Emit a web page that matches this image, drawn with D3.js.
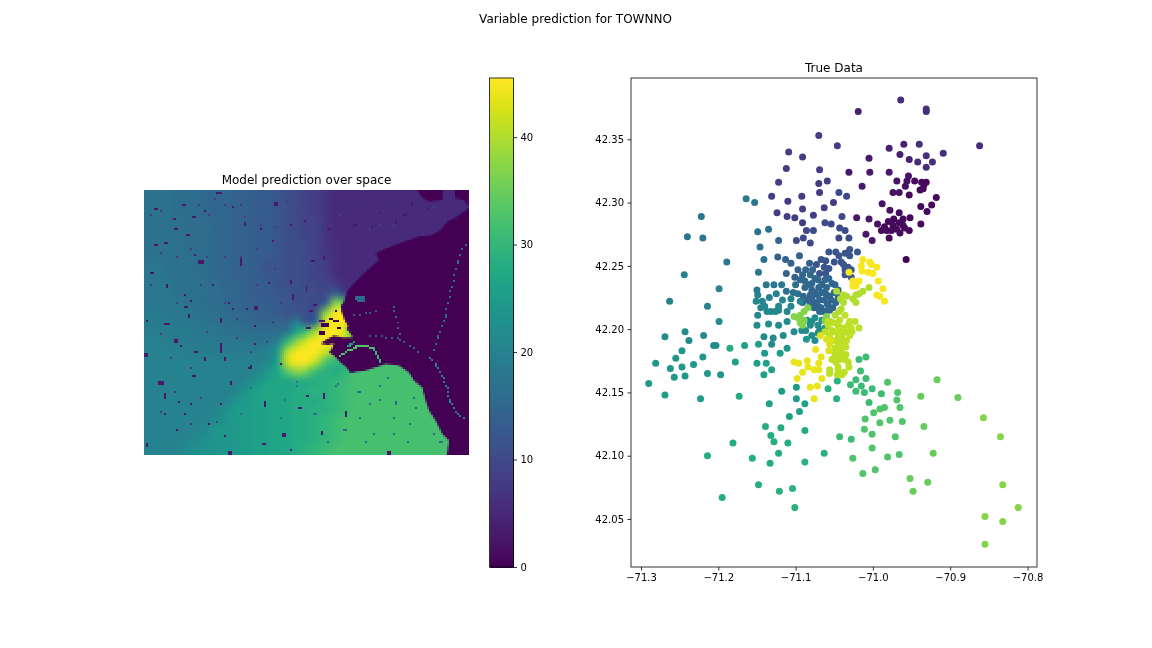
<!DOCTYPE html>
<html>
<head>
<meta charset="utf-8">
<script src="https://cdn.jsdelivr.net/npm/d3@7"></script>
<style>
  html, body { margin: 0; background: #fff; }
  #stage { position: relative; width: 1152px; height: 648px; overflow: hidden; }
  #stage canvas { position: absolute; image-rendering: pixelated; }
  #stage svg { position: absolute; left: 0; top: 0; }
  text { font-family: "DejaVu Sans", sans-serif; fill: #000; }
  .axis text { font-size: 10px; font-family: "DejaVu Sans", sans-serif; }
  .axis line, .axis path { stroke: #000; stroke-width: 0.8; }
</style>
</head>
<body>
<div id="stage"></div>
<script>
// Titles and ticks
const figureTitle = "Variable prediction for TOWNNO";
const mapTitle = "Model prediction over space";
const scatterTitle = "True Data";
const colorbarTicks = [0, 10, 20, 30, 40];
const lonTicks = [-71.3, -71.2, -71.1, -71.0, -70.9, -70.8];
const latTicks = [42.05, 42.10, 42.15, 42.20, 42.25, 42.30, 42.35];
const valueMax = 45.5;

// Prediction raster: coarse field over the land
const fieldRows = [
  [17,17,17,16,16,16,15,15,15,14,14,13,13,12,11,10,9,8,7,5.5,5.5,5.5,5.5,5.5,5.5,5.5,5.5,5.5,5.5,5.5,5.5,5.5,5.5],
  [17,17,17,16,16,16,15,15,15,14,14,13,13,12,11,10,9,8,7,5.5,5.5,5.5,5.5,5.5,5.5,5.5,5.5,5.5,5.5,5.5,5.5,5.5,5.5],
  [17,17,17,16,16,16,15,15,15,14,14,13,13,12,11,10,9,8,7,5.5,5.5,5.5,5.5,5.5,5.5,5.5,5.5,5.5,5.5,5.5,5.5,5.5,5.5],
  [17,17,17,17,16,16,16,15,15,14,14,13,13,12,11,10,9,9,7,5.5,5.5,5.5,5.5,5.5,5.5,5.5,5.5,5.5,5.5,5.5,5.5,5.5,5.5],
  [17,17,17,17,16,16,16,15,15,14,14,13,13,12,11,10,9,9,7,5.5,5.5,5.5,5.5,5.5,5.5,5.5,5.5,5.5,5.5,5.5,5.5,5.5,5.5],
  [17,17,17,17,16,16,16,15,15,14,14,13,13,12,11,11,10,9,7,6,5.5,5.5,5.5,5.5,5.5,5.5,5.5,5.5,5.5,5.5,5.5,5.5,5.5],
  [17,17,17,17,16,16,16,15,15,14,14,13,13,12,11,11,10,9,7,6,5.5,5.5,5.5,5.5,5.5,5.5,5.5,5.5,5.5,5.5,5.5,5.5,5.5],
  [18,18,17,17,17,16,16,15,15,14,14,13,12,12,11,11,10,9,8,6,5.5,5.5,5.5,5.5,5.5,5.5,5.5,5.5,5.5,5.5,5.5,5.5,5.5],
  [18,18,17,17,17,16,16,15,15,14,14,13,12,12,11,11,10,9,8,6,5.5,5.5,5.5,5.5,5.5,5.5,5.5,5.5,5.5,5.5,5.5,5.5,5.5],
  [18,18,18,17,17,17,16,16,15,15,14,13,13,12,11,11,10,10,9,8,5.5,5.5,5.5,5.5,5.5,5.5,5.5,5.5,5.5,5.5,5.5,5.5,5.5],
  [18,18,18,17,17,17,16,16,15,15,14,13,13,12,12,11,11,10,10,14,8,5.5,5.5,5.5,5.5,5.5,5.5,5.5,5.5,5.5,5.5,5.5,5.5],
  [18,18,18,18,17,17,16,16,15,15,14,14,13,13,12,11,11,10,14,38,32,6,5.5,5.5,5.5,5.5,5.5,5.5,5.5,5.5,5.5,5.5,5.5],
  [19,19,18,18,18,17,17,16,16,15,15,14,14,13,12,12,11,12,38,45,45,6,6,6,6,6,6,6,6,6,6,6,6],
  [19,19,19,18,18,18,17,17,16,16,15,15,14,15,14,20,12,16,43,45,44,30,30,30,30,30,30,30,30,30,30,30,30],
  [19,19,19,19,19,18,18,18,17,17,16,16,16,16,18,27,32,40,45,45,42,32,32,32,32,32,32,32,32,32,32,32,32],
  [20,20,19,19,19,19,19,18,18,18,18,17,18,20,30,38,43,45,45,45,40,32,32,32,32,32,32,32,32,32,32,32,32],
  [20,20,20,20,19,19,19,19,19,19,19,19,20,24,40,45,45,45,42,36,33,32,32,32,32,32,32,32,32,32,32,32,32],
  [20,20,20,20,20,20,20,20,20,20,20,20,21,26,42,45,45,41,33,30,30,32,32,32,32,32,32,32,32,32,32,32,32],
  [20,20,20,20,20,20,20,20,20,20,20,21,24,27,34,38,36,31,29,28,30,32,32,32,32,32,32,32,32,32,32,32,32],
  [20,20,20,20,20,20,20,20,20,20,21,24,26,27,27,28,28,28,29,30,31,32,32,32,32,32,32,32,32,32,32,32,32],
  [20,20,20,20,20,20,20,20,20,21,24,26,27,27,27,28,28,29,29,30,31,32,32,32,32,32,32,32,32,32,32,32,32],
  [20,20,20,20,20,20,20,20,21,24,25,26,27,27,27,28,28,28,29,30,31,32,32,32,32,32,32,32,32,32,32,32,32],
  [20,20,20,20,20,20,20,21,23,25,25,26,26,27,27,28,28,29,29,30,31,32,32,32,32,32,32,32,32,32,32,32,32],
  [20,20,20,20,20,20,21,22,24,25,25,26,26,27,27,28,28,29,30,31,32,32,32,32,32,32,32,32,32,32,32,32,32],
  [20,20,20,20,20,21,22,24,24,25,25,26,26,27,27,28,28,29,30,31,32,32,32,32,32,32,32,32,32,32,32,32,32],
  [20,20,20,20,21,22,23,24,24,25,25,26,26,27,27,28,28,29,30,31,32,32,32,32,32,32,32,32,32,32,32,32,32],
  [20,20,20,21,22,23,23,24,24,25,25,26,26,27,27,28,29,30,31,32,32,32,32,32,32,32,32,32,32,32,32,32,32]
];

// Raster size in model cells, regions below are [col, row] in these cells
const rasterCols = 163;
const rasterRows = 133;
const oceanCoast = [
  [100.5,55.8],[99,57.8],[99.2,60.8],[100.8,65],[102.5,68.8],[101.8,70],[103.8,72.5],[105,74.2],[99.7,74.2],[95.5,73.3],
  [91.3,75.5],[88.8,77.2],[92.2,78],[95.5,77.2],[94.7,79.5],[93,81.7],[95.5,83.3],[98.8,86.7],[101.3,88.7],[103.8,91.7],
  [111.3,90.8],[121.3,87.5],[128,88.3],[133,91.7],[135.5,95.8],[139.7,99.2],[141.3,105.8],[143,110.8],[146.3,115.8],
  [149.7,122.5],[153,125.8],[152,133],[163,133],[163,9],[160.5,10.8],[155.5,14.2],[152.2,15.8],[148.8,20],[144.7,22.5],
  [138,23.3],[128,26.7],[121.3,29.2],[116.3,31.7],[118,35],[113,39.2],[108,44.2],[104.7,47.5],[102,51]
];
const oceanPatchA = [[137.2,0],[139,3.3],[143,5.8],[149.7,5],[150,0]];
const oceanPatchB = [[155.8,0],[156.3,4.2],[160.5,5],[162.5,8.3],[163,0]];

// Thin features inside the water: value, dash step, points
const channelValues = [16, 20, 15, 14, 33, 30, 38, 25, 12];
const channelSteps = [3, 2, 3, 3, 1, 1, 1, 1, 3];
const channelPaths = [
  [[160.5,26.7],[157,36],[153.8,47.5],[150.5,62.5],[147,74.2],[144.7,82.5]],
  [[143,83.8],[146.3,87.5],[151.3,97.5],[153,105.8],[155.5,110.8],[160.5,115]],
  [[124.7,57.5],[127.2,69.2],[128,74.5],[139.7,82.5]],
  [[113,72.8],[128,74.2]],
  [[98,82.5],[108,77.5],[114.7,79.2]],
  [[114.7,79.2],[118.8,86.7]],
  [[101,69.2],[102.7,74.2]],
  [[105,76],[101,79]],
  [[105,62],[118,60]]
];

// Small lakes and ponds: [col, row, width, height]
const darkSpecks = [
  [5,9,2,1],[19,7,2,1],[30,10,1,1],[36,1,3,1],[44,8,1,1],[65,6,2,2],[15,14,1,1],[24,13,2,1],[15,19,2,1],[21,22,2,1],
  [5,27,2,1],[10,26,2,1],[25,32,1,1],[27,35,3,2],[3,41,2,1],[11,47,1,2],[20,52,1,1],[23,55,1,1],[20,58,2,1],[22,62,1,2],
  [10,67,3,1],[1,65,1,1],[15,75,2,2],[18,78,1,1],[0,82,2,2],[25,81,2,1],[30,84,1,2],[38,77,1,5],[40,84,1,2],[7,96,3,2],
  [24,93,2,1],[10,102,1,3],[17,106,1,1],[20,112,1,1],[10,112,1,1],[1,127,1,2],[43,96,1,2],[52,89,2,1],[38,64,1,3],[44,59,1,1],
  [55,58,2,2],[55,68,1,1],[48,34,1,4],[50,16,1,2],[58,19,1,1],[64,25,1,1],[73,17,1,1],[80,15,1,1],[92,19,2,1],[105,17,2,1],
  [114,18,1,1],[126,15,1,2],[90,33,1,2],[84,35,2,1],[73,45,1,2],[81,48,1,3],[74,52,1,3],[85,57,2,1],[83,60,2,1],[88,65,3,1],
  [81,69,3,1],[62,46,1,1],[34,47,1,1],[42,56,1,1],[51,59,1,1],[64,66,1,1],[55,77,1,1],[53,88,1,1],[68,87,1,1],[134,6,1,2],
  [130,12,2,1],[118,11,1,1],[142,9,1,1],[81,103,2,1],[90,102,1,3],[60,106,1,3],[77,109,2,1],[101,111,1,3],[89,121,1,2],[69,122,2,2],
  [59,127,2,1],[42,131,2,2],[122,131,2,2],[73,130,1,1],[38,107,1,1],[32,117,1,1],[23,107,1,1],[16,120,1,1],[40,123,1,1],[48,112,1,1]
];
const faintSpecks = [
  [3,12,1,1],[8,10,1,1],[14,14,1,1],[27,7,1,1],[32,12,1,1],[35,4,1,1],[40,7,1,1],[48,7,1,1],[50,13,1,1],[58,17,1,1],[65,18,1,1],[71,5,1,1],
  [76,11,1,1],[85,7,1,1],[98,12,1,1],[104,8,1,1],[113,19,1,1],[118,17,1,1],[128,8,1,1],[136,11,1,1],[145,8,1,1],[125,17,1,1],[8,31,1,1],
  [16,33,1,1],[23,29,1,1],[31,33,1,1],[40,33,1,1],[48,33,1,1],[56,29,1,1],[65,39,1,1],[3,47,1,1],[16,56,1,1],[28,47,1,1],[40,56,1,1],
  [46,64,1,1],[56,47,1,1],[68,56,1,1],[8,72,1,1],[31,71,1,1],[46,74,1,1],[53,81,1,1],[61,76,1,1],[13,84,1,1],[23,89,1,1],[15,101,1,1],
  [28,104,1,1],[8,111,1,1],[23,117,1,1],[36,116,1,1]
];
const paleSpecks = [
  [107,101,2,1],[113,107,1,1],[133,117,1,1],[126,106,1,2],[135,104,1,1],[125,122,1,1],[97,97,1,1],[122,94,1,1],[100,120,2,1],[111,126,1,1],
  [132,126,1,1],[148,126,2,1],[118,105,1,1],[86,112,1,1],[76,96,1,1],[107,88,2,2],[115,87,2,2],[103,91,3,1],[70,105,1,1],[92,126,1,1],
  [45,101,1,1],[48,112,1,1],[53,99,1,1],[68,114,1,1],[76,98,1,1],[85,112,1,1],[96,98,1,1],[108,114,1,1],[118,98,1,1],[125,114,1,1],
  [136,109,1,1],[140,101,1,1],[115,122,1,1],[145,122,1,1]
];
const darkSpeckValue = 3;
const faintSpeckValue = 8;
const paleSpeckValue = 16;

// Harbour details painted after the water
const harborBlots = [[89,67,4,2],[93,64,2,1],[96,60,1,1],[95,65,3,1],[88,71,3,2],[97,69,2,1]];
const harborPatches = [[106,53,5,2],[107,55,4,1]];
const harborPatchValue = 15;

// True data: one point list per town value, [lon, lat]
const town00 = [[-70.957,42.255]];
const town01 = [[-70.946,42.317],[-70.937,42.316],[-70.931,42.316],[-70.934,42.314],[-70.935,42.311],[-70.939,42.310],[-70.953,42.306],
  [-70.918,42.304],[-70.938,42.297],[-70.924,42.298],[-70.930,42.293],[-70.966,42.292],[-70.952,42.288],[-70.938,42.283],[-70.973,42.287],
  [-70.961,42.287],[-70.980,42.285],[-70.966,42.284],[-70.985,42.281],[-70.974,42.282],[-70.961,42.282],[-70.989,42.278],[-70.982,42.278],
  [-70.976,42.278],[-70.969,42.279],[-70.965,42.276],[-70.953,42.278],[-70.959,42.280],[-70.979,42.272]];
const town02 = [[-70.994,42.283],[-70.954,42.321],[-70.969,42.317],[-70.956,42.317],[-70.958,42.313],[-70.974,42.308],[-70.966,42.308],
  [-70.988,42.299],[-70.978,42.294]];
const town03 = [[-71.009,42.275],[-71.001,42.270],[-71.005,42.335],[-71.031,42.324],[-71.004,42.324],[-70.979,42.324],[-71.014,42.313],
  [-71.021,42.288],[-71.005,42.287]];
const town04 = [[-71.019,42.372],[-70.979,42.343],[-70.965,42.338],[-70.953,42.334],[-70.960,42.346]];
const town06 = [[-70.964,42.381],[-70.931,42.374],[-70.931,42.372],[-70.862,42.345],[-70.940,42.346],[-70.931,42.337],[-70.909,42.339],
  [-70.942,42.332],[-70.923,42.332],[-70.931,42.328]];
const town08 = [[-71.070,42.353],[-71.109,42.340],[-71.091,42.336],[-71.112,42.327],[-71.069,42.326],[-71.122,42.316],[-71.070,42.315],
  [-71.059,42.317],[-71.069,42.308],[-71.131,42.305],[-71.110,42.301],[-71.092,42.305],[-71.046,42.345],[-71.051,42.300],[-71.091,42.295],
  [-71.063,42.296],[-71.124,42.292],[-71.111,42.289],[-71.101,42.288],[-71.077,42.290],[-71.091,42.284]];
const town10 = [[-71.062,42.284],[-71.054,42.283],[-71.086,42.278],[-71.077,42.278],[-71.044,42.308],[-71.034,42.305],[-71.040,42.289],
  [-71.043,42.280],[-71.036,42.278],[-71.044,42.272],[-71.031,42.272],[-71.090,42.272],[-71.099,42.270],[-71.081,42.268]];
const town12 = [[-71.057,42.261],[-71.048,42.261],[-71.044,42.258],[-71.036,42.260],[-71.030,42.263],[-71.020,42.261],[-71.030,42.258],
  [-71.067,42.255],[-71.061,42.254],[-71.050,42.253],[-71.041,42.253],[-71.038,42.251],[-71.032,42.249],[-71.036,42.247],[-71.028,42.247],
  [-71.073,42.251],[-71.063,42.249],[-71.057,42.248],[-71.069,42.244],[-71.061,42.244],[-71.036,42.243],[-71.028,42.241]];
const town14 = [[-71.123,42.257],[-71.113,42.255],[-71.106,42.252],[-71.095,42.258],[-71.097,42.247],[-71.112,42.244],[-71.101,42.241],
  [-71.082,42.252],[-71.122,42.270]];
const town15 = [[-71.087,42.247],[-71.081,42.243],[-71.088,42.238],[-71.079,42.236],[-71.071,42.239],[-71.062,42.239],[-71.053,42.236],
  [-71.088,42.233],[-71.079,42.231],[-71.070,42.233],[-71.060,42.233],[-71.049,42.235],[-71.081,42.227],[-71.071,42.227],[-71.061,42.228],
  [-71.050,42.229],[-71.084,42.223],[-71.074,42.221],[-71.063,42.223],[-71.054,42.223],[-71.045,42.225],[-71.076,42.217],[-71.067,42.217],
  [-71.058,42.219],[-71.052,42.217],[-71.069,42.214],[-71.061,42.214],[-71.094,42.239],[-71.090,42.226],[-71.081,42.220],[-71.091,42.243],
  [-71.084,42.235],[-71.075,42.240],[-71.066,42.235],[-71.057,42.240],[-71.075,42.229],[-71.066,42.229],[-71.056,42.226],[-71.091,42.221],
  [-71.079,42.225],[-71.069,42.223],[-71.059,42.220],[-71.071,42.218],[-71.048,42.221],[-71.078,42.247],[-71.045,42.231],[-71.065,42.214],
  [-71.056,42.215]];
const town17 = [[-71.146,42.265],[-71.141,42.255],[-71.149,42.277],[-71.135,42.279],[-71.100,42.235],[-71.112,42.230],[-71.103,42.229],
  [-71.097,42.228]];
const town18 = [[-71.189,42.253],[-71.148,42.245],[-71.164,42.303],[-71.153,42.300],[-71.222,42.289],[-71.240,42.273],[-71.220,42.272],
  [-71.138,42.235],[-71.128,42.235],[-71.118,42.235],[-71.150,42.231]];
const town20 = [[-71.244,42.243],[-71.199,42.232],[-71.263,42.222],[-71.214,42.218],[-71.149,42.227],[-71.125,42.228],[-71.134,42.225],
  [-71.106,42.224],[-71.094,42.222]];
const town21 = [[-71.117,42.223],[-71.151,42.222],[-71.143,42.222],[-71.140,42.218],[-71.145,42.217],[-71.122,42.218],[-71.106,42.218],
  [-71.137,42.214],[-71.132,42.214],[-71.126,42.214],[-71.122,42.215],[-71.111,42.214],[-71.149,42.211]];
const town22 = [[-71.199,42.206],[-71.243,42.198],[-71.269,42.194],[-71.219,42.195],[-71.238,42.191],[-71.206,42.187],[-71.203,42.187],
  [-71.111,42.206],[-71.150,42.203],[-71.135,42.204],[-71.122,42.203],[-71.102,42.198],[-71.141,42.194],[-71.129,42.193],[-71.116,42.195],
  [-71.131,42.188],[-71.085,42.207],[-71.075,42.209],[-71.066,42.207],[-71.081,42.203],[-71.071,42.203],[-71.087,42.199],[-71.079,42.195],
  [-71.069,42.199],[-71.062,42.201],[-71.075,42.191],[-71.092,42.199],[-71.079,42.206],[-71.071,42.197]];
const town24 = [[-71.111,42.185],[-71.086,42.192],[-71.247,42.183],[-71.255,42.177],[-71.220,42.178],[-71.281,42.173],[-71.262,42.169],
  [-71.247,42.170],[-71.232,42.172],[-71.257,42.162],[-71.243,42.163],[-71.214,42.165],[-71.197,42.164],[-71.290,42.157]];
const town25 = [[-71.140,42.181],[-71.120,42.181],[-71.269,42.148],[-71.223,42.145],[-71.118,42.151],[-71.099,42.154],[-71.099,42.145]];
const town26 = [[-71.166,42.187],[-71.148,42.188],[-71.178,42.174],[-71.150,42.173],[-71.138,42.173],[-71.141,42.164],[-71.131,42.168],
  [-71.134,42.141],[-71.088,42.141],[-71.095,42.135],[-71.108,42.131]];
const town28 = [[-71.185,42.185],[-71.173,42.147],[-71.139,42.123],[-71.119,42.122],[-71.132,42.116],[-71.128,42.111],[-71.110,42.110],
  [-71.088,42.120],[-71.181,42.110],[-71.214,42.100],[-71.156,42.098],[-71.122,42.102],[-71.133,42.094],[-71.195,42.067],[-71.148,42.077]];
const town29 = [[-71.046,42.159],[-71.058,42.153],[-71.047,42.145],[-71.088,42.095],[-71.121,42.072],[-71.104,42.074],[-71.101,42.059],
  [-71.063,42.102]];
const town31 = [[-71.018,42.176],[-71.009,42.178],[-71.016,42.167],[-71.022,42.160],[-71.009,42.161],[-71.029,42.156],[-71.015,42.155],
  [-71.022,42.151],[-71.011,42.150],[-71.001,42.153],[-70.989,42.149],[-71.005,42.142],[-71.043,42.115],[-71.028,42.113]];
const town33 = [[-70.981,42.158],[-70.985,42.138],[-70.991,42.137],[-70.999,42.134],[-71.010,42.129],[-70.991,42.126],[-70.978,42.128],
  [-70.962,42.127],[-71.011,42.121],[-71.001,42.117],[-70.971,42.115],[-71.001,42.106],[-71.026,42.098],[-71.013,42.086],[-70.997,42.089],
  [-70.981,42.099],[-70.966,42.101],[-70.968,42.150],[-70.969,42.144],[-70.965,42.138]];
const town35 = [[-70.934,42.123],[-70.922,42.102],[-70.952,42.082],[-70.929,42.079],[-70.948,42.072],[-70.917,42.160],[-70.938,42.147],
  [-70.890,42.146]];
const town37 = [[-70.857,42.130],[-70.835,42.115],[-70.832,42.077],[-70.812,42.059],[-70.855,42.052],[-70.832,42.048],[-70.855,42.030],
  [-71.084,42.217],[-71.089,42.214],[-71.094,42.211],[-71.102,42.210],[-71.097,42.209],[-71.089,42.207],[-71.094,42.205],[-71.091,42.203],
  [-71.060,42.210],[-71.062,42.207],[-71.056,42.206]];
const town40 = [[-71.005,42.233],[-71.013,42.230],[-71.018,42.228],[-71.022,42.227],[-71.026,42.224],[-71.022,42.221],[-71.047,42.230],
  [-71.038,42.227],[-71.042,42.224],[-71.034,42.226],[-71.038,42.221],[-71.041,42.216],[-71.044,42.214],[-71.049,42.211]];
const town41 = [[-71.051,42.205],[-71.032,42.203],[-71.018,42.201],[-71.028,42.201],[-71.062,42.198],[-71.053,42.199],[-71.043,42.199],
  [-71.034,42.198],[-71.045,42.195],[-71.034,42.191],[-71.037,42.188],[-71.041,42.184],[-71.035,42.180],[-71.045,42.180],[-71.051,42.177],
  [-71.043,42.176],[-71.036,42.176],[-71.031,42.170],[-71.037,42.166],[-71.045,42.170],[-71.056,42.168],[-71.056,42.165],[-71.046,42.164],
  [-71.049,42.185],[-71.049,42.181],[-71.043,42.207],[-71.045,42.203],[-71.036,42.211],[-71.030,42.206],[-71.049,42.198],[-71.040,42.195],
  [-71.058,42.203],[-71.045,42.190],[-71.056,42.195],[-71.040,42.190],[-71.030,42.195],[-71.049,42.191],[-71.043,42.182],[-71.035,42.186],
  [-71.053,42.176],[-71.045,42.168],[-71.032,42.174],[-71.039,42.201],[-71.058,42.206],[-71.023,42.206],[-71.039,42.180],[-71.027,42.198],
  [-71.045,42.187],[-71.048,42.174],[-71.040,42.164]];
const town43 = [[-71.054,42.191],[-71.056,42.188],[-71.057,42.183],[-71.068,42.195],[-71.060,42.192]];
const town44 = [[-71.074,42.184],[-71.067,42.178],[-71.102,42.174],[-71.096,42.173],[-71.085,42.175],[-71.070,42.173],[-71.084,42.170],
  [-71.091,42.166],[-71.076,42.168],[-71.070,42.168],[-71.098,42.161],[-71.066,42.161],[-71.081,42.154],[-71.072,42.155],[-71.076,42.145]];
const town45 = [[-71.031,42.245],[-71.013,42.255],[-71.004,42.253],[-71.015,42.250],[-71.002,42.251],[-70.995,42.249],[-71.014,42.246],
  [-71.006,42.245],[-71.000,42.244],[-70.993,42.238],[-71.026,42.238],[-71.018,42.238],[-71.022,42.234],[-71.026,42.234],[-70.987,42.232],
  [-70.995,42.227],[-70.991,42.226],[-70.985,42.222]];

const townValues = [0, 1, 2, 3, 4, 6, 8, 10, 12, 14, 15, 17, 18, 20, 21, 22, 24, 25, 26, 28, 29, 31, 33, 35, 37, 40, 41, 43, 44, 45];
const townPoints = [town00, town01, town02, town03, town04, town06, town08, town10, town12, town14, town15, town17, town18, town20, town21,
  town22, town24, town25, town26, town28, town29, town31, town33, town35, town37, town40, town41, town43, town44, town45];

const color = d3.scaleSequential(d3.interpolateViridis).domain([0, valueMax]);

const stage = d3.select("#stage");

// Prediction map, drawn to a canvas at one pixel per model cell
const mapBox = { left: 144, top: 190, width: 325, height: 265 };
const mapCanvas = stage.append("canvas")
    .attr("width", rasterCols)
    .attr("height", rasterRows)
    .style("left", mapBox.left + "px")
    .style("top", mapBox.top + "px")
    .style("width", mapBox.width + "px")
    .style("height", mapBox.height + "px");
const ctx = mapCanvas.node().getContext("2d");

// Smooth land field first
const fieldCanvas = document.createElement("canvas");
fieldCanvas.width = fieldRows[0].length;
fieldCanvas.height = fieldRows.length;
const fieldCtx = fieldCanvas.getContext("2d");
fieldRows.forEach(function(row, r) {
    row.forEach(function(v, c) {
        fieldCtx.fillStyle = color(v);
        fieldCtx.fillRect(c, r, 1, 1);
    });
});
ctx.imageSmoothingEnabled = true;
ctx.imageSmoothingQuality = "high";
ctx.drawImage(fieldCanvas, 0, 0, rasterCols, rasterRows);

// Specks
function drawSpecks(list, value) {
    ctx.fillStyle = color(value);
    list.forEach(function(s) { ctx.fillRect(s[0], s[1], s[2], s[3]); });
}
drawSpecks(faintSpecks, faintSpeckValue);
drawSpecks(darkSpecks, darkSpeckValue);
drawSpecks(paleSpecks, paleSpeckValue);

// Water
const regionLine = d3.line().context(ctx);
[oceanCoast, oceanPatchA, oceanPatchB].forEach(function(poly) {
    ctx.beginPath();
    regionLine(poly);
    ctx.closePath();
    ctx.fillStyle = color(0);
    ctx.fill();
});
drawSpecks(harborBlots, 0);
drawSpecks(harborPatches, harborPatchValue);

// Thin features in the water, walked one cell at a time
channelPaths.forEach(function(path, i) {
    ctx.fillStyle = color(channelValues[i]);
    d3.pairs(path).forEach(function(seg) {
        const n = Math.ceil(Math.hypot(seg[1][0] - seg[0][0], seg[1][1] - seg[0][1]));
        d3.range(0, n, channelSteps[i]).forEach(function(k) {
            const x = seg[0][0] + (seg[1][0] - seg[0][0]) * k / n;
            const y = seg[0][1] + (seg[1][1] - seg[0][1]) * k / n;
            ctx.fillRect(Math.round(x), Math.round(y), 1, 1);
        });
    });
});

// Overlay SVG
const svg = stage.append("svg").attr("width", 1152).attr("height", 648);

svg.append("text")
    .attr("x", 575.5)
    .attr("y", 23)
    .attr("text-anchor", "middle")
    .attr("font-size", 12)
    .text(figureTitle);

svg.append("text")
    .attr("x", mapBox.left + mapBox.width / 2)
    .attr("y", 184)
    .attr("text-anchor", "middle")
    .attr("font-size", 12)
    .text(mapTitle);

// Colorbar
const barBox = { left: 489.5, right: 513.5, top: 78, bottom: 567 };
const barScale = d3.scaleLinear().domain([0, valueMax]).range([barBox.bottom, barBox.top]);
const barSteps = d3.range(0, 256).map(function(i) { return i / 256 * valueMax; });
const barStep = valueMax / 256;
svg.append("g").attr("shape-rendering", "crispEdges").selectAll("rect")
    .data(barSteps)
    .enter()
    .append("rect")
    .attr("x", barBox.left)
    .attr("width", barBox.right - barBox.left)
    .attr("y", function(d) { return barScale(d + barStep); })
    .attr("height", function(d) { return barScale(d) - barScale(d + barStep) + 1; })
    .attr("fill", function(d) { return color(d); });
svg.append("rect")
    .attr("x", barBox.left)
    .attr("y", barBox.top)
    .attr("width", barBox.right - barBox.left)
    .attr("height", barBox.bottom - barBox.top)
    .attr("fill", "none")
    .attr("stroke", "#000")
    .attr("stroke-width", 0.8);
const barAxis = svg.append("g")
    .attr("class", "axis")
    .attr("transform", "translate(" + barBox.right + ",0)")
    .call(d3.axisRight(barScale).tickValues(colorbarTicks).tickFormat(d3.format("d")).tickSize(3.5).tickPadding(3.5));
barAxis.select(".domain").remove();

// Scatter of the true data
const plotBox = { left: 631, right: 1037, top: 78, bottom: 567 };
const lonScale = d3.scaleLinear().domain([-71.3, -70.8]).range([641, 1027.5]);
const latScale = d3.scaleLinear().domain([42.05, 42.35]).range([519, 139.3]);

svg.append("text")
    .attr("x", (plotBox.left + plotBox.right) / 2)
    .attr("y", 72)
    .attr("text-anchor", "middle")
    .attr("font-size", 12)
    .text(scatterTitle);

townPoints.forEach(function(points, i) {
    svg.append("g").selectAll("circle")
        .data(points)
        .enter()
        .append("circle")
        .attr("cx", function(d) { return lonScale(d[0]); })
        .attr("cy", function(d) { return latScale(d[1]); })
        .attr("r", 3.5)
        .attr("fill", color(townValues[i]));
});

svg.append("rect")
    .attr("x", plotBox.left)
    .attr("y", plotBox.top)
    .attr("width", plotBox.right - plotBox.left)
    .attr("height", plotBox.bottom - plotBox.top)
    .attr("fill", "none")
    .attr("stroke", "#000")
    .attr("stroke-width", 0.8);

const xAxis = svg.append("g")
    .attr("class", "axis")
    .attr("transform", "translate(0," + plotBox.bottom + ")")
    .call(d3.axisBottom(lonScale).tickValues(lonTicks).tickFormat(d3.format(".1f")).tickSize(3.5).tickPadding(3.5));
xAxis.select(".domain").remove();

const yAxis = svg.append("g")
    .attr("class", "axis")
    .attr("transform", "translate(" + plotBox.left + ",0)")
    .call(d3.axisLeft(latScale).tickValues(latTicks).tickFormat(d3.format(".2f")).tickSize(3.5).tickPadding(3.5));
yAxis.select(".domain").remove();
</script>
</body>
</html>
